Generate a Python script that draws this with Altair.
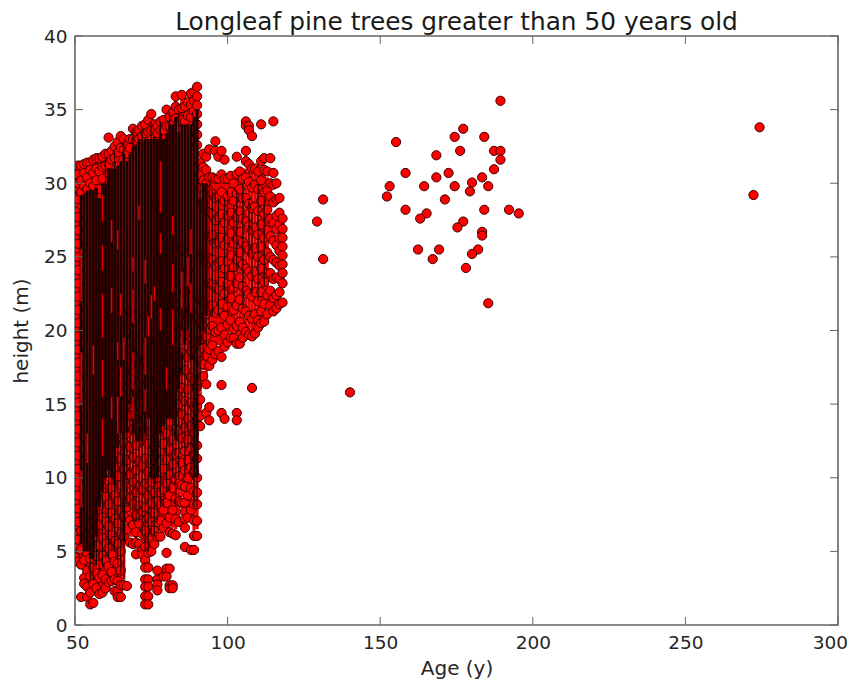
import altair as alt
import pandas as pd

TITLE = "Longleaf pine trees greater than 50 years old"
X_TICKS = [50, 100, 150, 200, 250, 300]
Y_TICKS = [0, 5, 10, 15, 20, 25, 30, 35, 40]

# Isolated old trees: (age, height)
old_age = [189.4,177.2,174.4,184.1,155.2,176.2,168.4,187.3,189.4,189.4,187.3,158.3,172.4,168.4,183.4,180.1,153.1,164.4,174.4,185.4,179.4,152.2,131.3,171.2,158.3,184.1,192.2,195.4,165.2,163.1,129.3,177.2,175.3,183.4,183.4,162.4,169.3,182.1,180.1,167.2,131.3,178.1,185.4,140.1,272.3,274.3]
old_h = [35.6,33.7,33.15,33.15,32.8,32.2,31.9,32.2,32.2,31.6,30.95,30.7,30.7,30.4,30.4,30.05,29.8,29.8,29.8,29.8,29.45,29.1,28.9,28.9,28.2,28.2,28.2,27.95,27.95,27.6,27.4,27.4,27.0,26.7,26.45,25.5,25.5,25.5,25.2,24.85,24.85,24.25,21.85,15.8,29.2,33.8]

# Young stand, read column by column: heights seen at each whole-year age
stand = {
50:[31.0,30.4,29.7,29.0,28.1,27.2,26.3,25.4,24.6,23.7,22.8,21.9,21.0,20.1,19.2,18.3,17.4,16.5,15.6,14.7,13.8,12.9,12.0,11.1,10.2,9.3,8.4,7.5,6.2,5.3,4.6],
51:[31.2,30.6,30.0,28.9,27.7,26.8,25.9,25.0,24.1,23.2,22.3,21.4,20.5,19.6,18.7,17.8,16.9,16.0,15.1,14.2,13.3,12.4,11.5,10.6,9.7,8.8,7.9,7.0,5.8,4.3],
52:[31.2,30.2,29.4,6.4,5.1,4.1,1.9],
53:[31.3,30.7,29.8,7.2,5.6,4.4,3.2,2.8],
54:[31.4,30.4,29.6,6.1,4.9,3.7,2.6,1.9],
55:[31.4,30.9,30.0,5.7,4.5,3.3,2.2,1.4],
56:[31.6,30.7,29.8,6.4,5.2,3.9,2.8,1.5],
57:[31.7,31.0,30.2,7.3,6.0,4.7,3.5,2.5],
58:[31.7,30.8,29.6,20.1,13.2,11.4,9.6,8.1,6.8,5.4,4.1,3.2,2.1],
59:[31.8,31.1,30.3,12.6,10.8,9.0,7.3,5.9,4.7,3.4,2.2],
60:[32.0,31.2,12.1,10.4,8.7,7.0,5.5,4.4,3.1,2.5],
61:[33.1,32.0,31.3,11.5,9.8,8.2,6.7,5.2,4.0,2.9],
62:[32.2,31.6,13.4,11.1,9.3,7.6,6.1,4.8,3.6,3.0],
63:[32.5,31.7,15.0,12.8,10.7,8.8,7.2,5.7,4.3,3.1,2.3],
64:[32.8,32.1,24.0,16.2,14.1,12.0,10.1,8.4,6.9,5.5,4.2,3.0,2.3,1.9],
65:[33.2,32.4,18.3,15.8,13.6,11.3,9.5,7.8,6.2,5.0,3.7,2.7,1.9],
66:[33.0,32.3,17.1,14.7,12.4,10.6,8.9,7.4,6.0,2.7],
67:[32.6,32.0,20.4,17.8,15.3,13.0,11.2,9.6,8.0,6.5,2.65],
68:[33.0,32.4,21.3,18.7,16.4,14.2,12.1,10.2,8.6,7.1,5.6],
69:[33.7,33.0,19.6,17.2,15.1,13.3,11.4,9.7,8.2,6.8,5.5],
70:[33.5,32.9,18.1,15.9,14.0,12.2,10.5,9.0,7.5,6.3,5.6,4.8],
71:[33.6,33.0,17.6,15.2,13.1,11.1,9.4,8.1,6.9,5.5],
72:[33.9,33.2,16.8,14.6,12.7,10.8,9.2,7.7,6.2,5.1,4.8],
73:[34.0,33.4,21.0,17.9,15.4,13.2,11.3,9.6,8.0,6.4,5.3,4.4,3.9,3.1,2.6,1.95,1.4],
74:[34.3,33.5,19.3,16.5,14.4,12.3,10.4,8.8,7.3,5.9,4.9,3.9,3.1,2.6,1.95,1.4],
75:[34.7,33.6,15.2,13.1,11.2,9.7,8.3,7.0,5.9,5.0],
76:[34.0,33.6,14.3,12.1,10.3,9.0,7.6,6.4,5.5],
77:[33.9,33.4,28.5,13.8,11.7,10.0,8.4,7.0,6.0,3.7,3.1,2.75,2.35],
78:[34.2,33.6,15.6,13.4,11.8,10.4,9.0,8.2,7.1,6.0],
79:[34.3,33.6,16.3,14.2,12.3,10.6,9.2,7.8,6.6,3.3],
80:[35.0,33.9,17.2,15.0,13.0,11.2,9.6,8.3,6.9,4.9,3.83,3.3],
81:[34.5,33.9,21.9,18.1,15.8,13.8,11.9,10.2,8.8,7.3,6.3,3.83,2.7,2.5],
82:[34.8,34.0,22.0,19.4,16.7,14.5,12.6,10.9,9.3,7.8,6.2,2.7,2.5],
83:[35.9,35.2,34.4,18.3,15.6,13.3,11.6,9.9,8.6,7.2,6.1],
84:[35.0,34.2,20.1,17.2,15.0,13.2,11.7,10.1,9.6,8.4,7.0],
85:[36.0,35.1,34.3,25.5,21.4,18.5,16.1,14.3,12.7,11.0,9.5,8.3],
86:[35.2,34.2,22.6,19.7,17.3,15.2,13.4,11.8,10.5,9.4,8.3,7.7,7.2,6.6,5.3],
87:[35.5,34.6,24.1,20.9,18.2,16.0,14.0,12.6,11.2,10.0,8.8,7.3],
88:[36.1,35.3,34.5,21.3,18.6,16.8,15.1,13.5,12.0,10.7,9.3,7.8,5.1],
89:[36.2,35.6,34.9,19.2,16.6,14.8,13.0,11.5,10.4,9.1,8.2,7.1,6.05,5.1],
90:[36.55,35.9,35.3,34.7,34.0,33.3,32.6,16.2,14.9,13.65,12.2,11.3,10.0,9.0,8.2,7.07,6.05],
91:[31.4,30.6,29.7,22.1,20.6,19.1,17.9,16.6,15.3,14.2,13.5],
92:[32.0,31.1,30.2,28.7,25.1,21.9,20.3,18.8,17.7,16.9],
93:[31.8,30.9,30.0,28.1,24.6,21.1,19.6,18.3,16.35,14.4],
94:[32.3,30.4,29.5,28.0,26.4,24.9,23.2,21.6,20.1,18.7,17.6,14.8,13.9],
95:[30.4,29.3,27.9,26.5,24.8,23.1,21.7,20.3,19.0,18.0],
96:[32.85,32.2,30.3,29.0,27.5,25.9,24.4,22.9,21.2,19.9,18.4],
97:[31.8,30.3,29.1,27.7,26.0,24.6,22.8,21.4,20.0,18.6],
98:[32.2,30.6,29.4,27.9,26.3,24.7,23.3,21.8,20.2,18.2,16.3,14.4],
99:[31.6,30.3,28.8,27.3,25.8,24.2,22.5,21.0,19.7,18.9,14.0],
100:[30.3,29.1,27.8,26.2,24.7,23.2,21.6,20.4,19.2],
101:[30.5,29.4,28.0,26.6,25.1,23.7,22.2,20.7,19.5],
102:[30.0,28.8,27.3,25.9,24.3,22.9,21.4,20.1,19.5],
103:[31.8,30.6,29.3,27.7,26.2,24.8,23.2,21.7,20.3,19.1,14.4,13.9],
104:[30.8,29.6,28.1,26.7,25.3,23.6,22.1,20.6,19.1],
105:[30.3,29.0,27.6,26.0,24.5,23.0,21.5,20.2,19.5],
106:[34.2,33.9,32.2,31.5,30.4,29.0,27.4,25.7,24.2,22.7,21.3,19.9],
107:[33.9,33.6,31.3,30.1,28.6,27.1,25.5,24.0,22.5,21.0,19.7],
108:[33.2,31.0,29.7,28.3,26.8,25.2,23.7,22.3,20.8,19.6,16.1],
109:[31.0,29.9,28.4,27.0,25.6,24.0,22.6,21.1,19.8],
110:[30.8,29.6,28.1,26.5,25.0,23.5,22.0,20.7,20.2],
111:[34.0,31.5,30.2,28.8,27.2,25.7,24.2,22.6,21.3,20.5],
112:[31.7,30.9,29.4,27.9,26.3,24.8,23.3,21.8,20.6],
113:[30.8,29.5,28.2,26.8,25.3,23.9,22.4,21.1],
114:[31.7,30.0,29.1,27.6,26.4,25.0,23.9,22.7,21.7],
115:[34.2,30.7,29.9,28.7,27.3,26.1,24.8,23.5,22.2,21.3],
116:[30.0,28.9,27.8,26.9,25.8,24.6,23.6,22.4,21.5],
117:[29.0,28.0,27.2,26.3,25.4,24.4,23.5,22.6,21.8],
118:[27.6,26.9,26.3,25.7,25.1,24.5,23.9,23.2,21.9],
}

# Columns where the markers merge into solid colour: (age, low, high)
packed_age = [50,51,52,53,54,55,56,57,58,59,60,61,62,63,64,65,66,67,68,69,70,71,72,73,74,75,76,77,78,79,80,81,82,83,84,85,86,87,88,89,90,91,92,93,94,95,96,97,98,99,100,101,102,103,104,105,106,107,108,109,110,111,112,113]
packed_lo = [4.8,4.5,4.4,3.5,2.4,1.8,2.0,2.9,2.5,2.6,2.9,3.2,3.4,2.7,2.3,2.3,3.1,7.0,6.0,6.0,5.2,6.0,5.3,5.0,5.0,5.4,5.9,6.4,6.4,7.0,7.3,6.7,6.6,6.5,7.4,8.7,7.6,7.7,8.2,6.4,6.5,14.0,17.3,16.8,18.0,18.4,18.8,19.0,18.6,19.3,19.6,19.9,19.9,19.5,19.5,19.9,20.3,20.1,20.0,20.2,20.6,20.9,21.0,21.5]
packed_hi = [30.8,31.0,31.0,31.0,31.2,31.2,31.4,31.5,31.5,31.6,31.8,32.0,32.0,32.3,32.6,33.0,32.8,32.4,32.8,33.5,33.3,33.4,33.7,33.8,34.0,34.4,33.8,33.7,34.0,34.1,34.7,34.3,34.5,35.6,34.8,35.8,35.0,35.3,35.8,36.0,36.2,30.8,30.8,30.5,30.2,30.1,30.1,30.1,30.1,30.1,30.1,30.2,29.8,30.4,30.5,30.1,31.0,31.0,30.7,30.7,30.5,30.8,30.6,30.4]

# Near-black overplotted stretch of each column: (age, low, high)
dark_age = [52,53,54,55,56,57,58,59,60,61,62,63,64,65,66,67,68,69,70,71,72,73,74,75,76,77,78,79,80,81,82,83,84,85,86,87,88,89,90,91,92,93]
dark_lo = [5.5,5.0,5.0,4.5,4.5,6.0,8.0,9.0,10.0,10.5,10.0,9.5,12.0,13.0,5.7,13.0,15.0,13.0,12.5,12.5,12.5,13.0,14.0,10.0,9.6,10.0,13.0,13.5,14.0,14.0,14.0,12.5,16.0,17.0,19.0,20.0,18.0,10.0,10.0,19.0,20.0,21.0]
dark_hi = [29.2,29.3,29.5,29.6,29.5,29.7,29.0,30.0,30.0,31.0,31.0,31.0,31.2,31.5,32.0,31.5,32.0,32.5,32.6,33.0,32.8,33.0,33.0,33.0,33.2,33.0,33.4,33.0,33.4,34.0,34.0,34.5,33.5,34.0,34.0,34.0,34.0,34.5,35.0,29.0,30.0,30.0]

# Short red flecks that survive inside the dark stretch: (age, low, high)
fleck_age = [52,52,52,54,56,59,59,59,59,59,62,62,62,64,64,64,65,65,69,69,69,69,73,73,73,74,75,76,78,78,78,82,82,82,85,85,87,88,88,66,71,80]
fleck_lo = [22.0,15.0,8.0,11.0,17.0,27.4,24.1,19.5,15.5,11.5,21.2,26.0,14.0,18.0,13.0,25.5,15.5,21.0,20.5,16.0,24.0,14.0,17.0,23.2,14.5,19.6,20.8,22.0,28.0,25.2,20.0,22.6,19.0,26.5,21.5,18.5,23.0,25.2,21.2,18.0,27.5,16.0]
fleck_hi = [25.5,18.5,10.5,13.0,19.0,29.2,25.8,22.5,18.0,14.0,22.9,27.5,15.5,19.2,15.5,26.8,17.5,22.5,22.8,18.5,25.0,15.5,19.5,24.8,16.0,21.0,22.4,23.0,31.5,26.6,21.5,24.5,21.4,27.8,24.0,20.0,25.0,26.9,23.2,19.5,28.5,17.5]

# Thinner dark seams where the overplotting fades out: (age, low, high)
seam_age = [55,56,57,58,59,60,61,62,63,64,65,66,67,68,69,70,71,72,73,74,75,76,77,78,79,80,81,82,83,84,85,86,87,88,89,90,91,91,92,93,94,95,96,97,99,100,102,103,105,107,108,110,112,60,63,66,69,72,75,78,81,84]
seam_lo = [3.0,3.0,4.0,3.5,4.0,4.5,4.5,5.0,5.0,4.0,3.5,3.0,8.0,8.0,7.0,7.0,7.0,6.0,5.0,5.0,6.0,6.0,7.0,8.0,8.0,9.0,9.0,10.0,8.0,10.0,12.0,10.0,12.0,10.0,8.0,8.0,16.0,20.0,18.0,19.0,20.0,21.0,22.0,21.0,22.0,21.0,22.5,24.0,21.5,25.0,22.5,22.0,23.0,30.0,31.0,32.0,32.5,32.8,33.0,33.4,34.0,33.5]
seam_hi = [4.5,4.5,6.0,8.0,9.0,10.0,10.5,10.0,9.5,12.0,13.0,5.7,13.0,15.0,13.0,12.5,12.5,12.5,13.0,14.0,10.0,9.6,10.0,13.0,13.5,14.0,14.0,14.0,12.5,16.0,17.0,19.0,20.0,18.0,10.0,10.0,19.0,30.0,30.0,30.0,30.0,29.5,29.5,29.0,29.0,29.5,28.5,29.5,30.0,29.0,28.0,30.0,29.0,31.8,32.2,32.8,33.6,33.7,34.2,34.2,34.8,34.8]

rows = [{"age": a, "h": h} for a, hs in stand.items() for h in hs]
rows += [{"age": a, "h": h} for a, h in zip(old_age, old_h)]
points = pd.DataFrame(rows)
packed = pd.DataFrame({"age": packed_age, "lo": packed_lo, "hi": packed_hi})
dark = pd.DataFrame({"age": dark_age, "lo": dark_lo, "hi": dark_hi})
flecks = pd.DataFrame({"age": fleck_age, "lo": fleck_lo, "hi": fleck_hi})
seams = pd.DataFrame({"age": seam_age, "lo": seam_lo, "hi": seam_hi})

xs = alt.Scale(domain=[50, 300], nice=False)
ys = alt.Scale(domain=[0, 40], nice=False)
FONT = "DejaVu Sans"
INK = "#262626"
W, H = 763, 589

x_enc = alt.X("age:Q", scale=xs, title="Age (y)",
              axis=alt.Axis(values=X_TICKS, grid=False, domain=False, ticks=False, labelPadding=8,
                            labelFlush=True, labelFlushOffset=9.5, labelFont=FONT, labelFontSize=18.5,
                            labelColor=INK, titleFont=FONT, titleFontSize=20, titleFontWeight="normal",
                            titleColor=INK, titlePadding=7))
y_enc = alt.Y("h:Q", scale=ys, title="height (m)",
              axis=alt.Axis(values=Y_TICKS, grid=False, domain=False, ticks=False, labelPadding=8,
                            labelFont=FONT, labelFontSize=18.5, labelColor=INK, titleFont=FONT,
                            titleFontSize=20, titleFontWeight="normal", titleColor=INK, titlePadding=12))

def columns(df, color, width):
    return alt.Chart(df).mark_rule(color=color, strokeWidth=width, clip=True).encode(
        x=alt.X("age:Q", scale=xs), y=alt.Y("lo:Q", scale=ys), y2="hi:Q")

backing = columns(packed, "#ee0000", 3.2)
dots = alt.Chart(points).mark_circle(size=85, color="#ff0000", opacity=1, stroke="#3a0000",
                                     strokeWidth=1, clip=True).encode(x=x_enc, y=y_enc)
dark_layer = columns(dark, "#1e0000", 2.9)
fleck_layer = columns(flecks, "#e00000", 1.5)
seam_layer = columns(seams, "#2a0000", 1.2)

FRAME = "#666666"
xt = pd.DataFrame({"v": X_TICKS})
yt = pd.DataFrame({"v": Y_TICKS})
xtick_b = alt.Chart(xt).mark_rule(color=FRAME).encode(x=alt.X("v:Q", scale=xs), y=alt.value(H), y2=alt.value(H - 8))
xtick_t = alt.Chart(xt).mark_rule(color=FRAME).encode(x=alt.X("v:Q", scale=xs), y=alt.value(0), y2=alt.value(8))
ytick_l = alt.Chart(yt).mark_rule(color=FRAME).encode(y=alt.Y("v:Q", scale=ys), x=alt.value(0), x2=alt.value(8))
ytick_r = alt.Chart(yt).mark_rule(color=FRAME).encode(y=alt.Y("v:Q", scale=ys), x=alt.value(W), x2=alt.value(W - 8))

chart = alt.layer(backing, dots, dark_layer, fleck_layer, seam_layer, xtick_b, xtick_t, ytick_l, ytick_r).properties(
    width=W, height=H,
    title=alt.TitleParams(TITLE, font=FONT, fontSize=24.8, fontWeight="normal", color="#1a1a1a", offset=0, dy=8),
    autosize=alt.AutoSizeParams(type="none"),
    padding={"left": 67, "top": 28, "right": 10, "bottom": 54},
).configure_view(stroke=FRAME, strokeWidth=1.6)

chart.save("out.html", embed_options={"renderer": "svg", "actions": False})
